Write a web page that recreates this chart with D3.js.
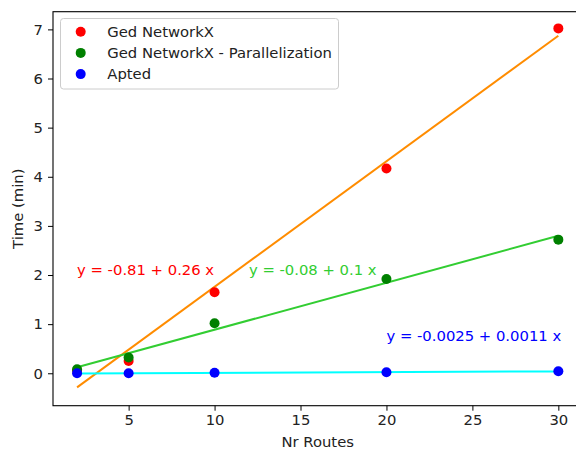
<!DOCTYPE html>
<html>
<head>
<meta charset="utf-8">
<script src="https://cdn.jsdelivr.net/npm/d3@7"></script>
<style>
  body { margin: 0; background: #fff; }
  svg { font-family: "DejaVu Sans", sans-serif; }
</style>
</head>
<body>
<div id="chart"></div>
<script>
// routes on the x axis
const routes = [2, 5, 10, 20, 30];

// time in minutes for each method
const gedNetworkx = [0.05, 0.25, 1.65, 4.17, 7.02];
const gedParallel = [0.08, 0.32, 1.02, 1.92, 2.72];
const apted = [0.0, 0.0, 0.01, 0.02, 0.04];

const seriesNames = ["Ged NetworkX", "Ged NetworkX - Parallelization", "Apted"];
const fitLabels = ["y = -0.81 + 0.26 x", "y = -0.08 + 0.1 x", "y = -0.0025 + 0.0011 x"];
const fitLabelPos = [[2, 2], [12, 2], [20, 0.65]];

const xTicks = [5, 10, 15, 20, 25, 30];
const yTicks = [0, 1, 2, 3, 4, 5, 6, 7];

const ctx = {
    w: 576,
    h: 449,
    left: 53,
    right: 582.4,
    top: 11.7,
    bottom: 405.7,
    font: "14.8px"
};

const pointColors = ["#ff0000", "#008000", "#0000ff"];
const fitColors = ["#ff8c00", "#32cd32", "#00ffff"];
const textColors = ["#ff0000", "#32cd32", "#0000ff"];

// least squares fit
function fit(xs, ys) {
    const mx = d3.mean(xs), my = d3.mean(ys);
    const sxy = d3.sum(xs, (x, i) => (x - mx) * (ys[i] - my));
    const sxx = d3.sum(xs, x => (x - mx) * (x - mx));
    const b = sxy / sxx;
    return { a: my - b * mx, b: b };
}

function createViz() {
    const svg = d3.select("#chart").append("svg")
        .attr("width", ctx.w)
        .attr("height", ctx.h);

    const x = d3.scaleLinear().domain([0.6, 31.4]).range([ctx.left, ctx.right]);
    const y = d3.scaleLinear().domain([-0.66, 7.36]).range([ctx.bottom, ctx.top]);

    const all = [gedNetworkx, gedParallel, apted];

    // fit lines
    all.forEach((ys, k) => {
        const f = fit(routes, ys);
        const ends = [routes[0], routes[routes.length - 1]];
        svg.append("path")
            .datum(ends)
            .attr("fill", "none")
            .attr("stroke", fitColors[k])
            .attr("stroke-width", 2)
            .attr("d", d3.line().x(d => x(d)).y(d => y(f.a + f.b * d)));
    });

    // points
    all.forEach((ys, k) => {
        svg.append("g").selectAll("circle")
            .data(routes)
            .join("circle")
            .attr("cx", d => x(d))
            .attr("cy", (d, i) => y(ys[i]))
            .attr("r", 5)
            .attr("fill", pointColors[k]);
    });

    // fit equations
    fitLabels.forEach((t, k) => {
        svg.append("text")
            .attr("x", x(fitLabelPos[k][0]))
            .attr("y", y(fitLabelPos[k][1]))
            .attr("fill", textColors[k])
            .style("font-size", ctx.font)
            .text(t);
    });

    // frame
    svg.append("rect")
        .attr("x", ctx.left)
        .attr("y", ctx.top)
        .attr("width", ctx.right - ctx.left)
        .attr("height", ctx.bottom - ctx.top)
        .attr("fill", "none")
        .attr("stroke", "#000")
        .attr("stroke-width", 1.1);

    // x axis
    const xAxis = svg.append("g")
        .attr("transform", `translate(0,${ctx.bottom})`)
        .call(d3.axisBottom(x).tickValues(xTicks).tickSize(5).tickPadding(4).tickFormat(d3.format("d")));
    xAxis.select(".domain").remove();
    xAxis.selectAll("text").style("font-size", ctx.font).style("font-family", "DejaVu Sans").attr("fill", "#222");

    // y axis
    const yAxis = svg.append("g")
        .attr("transform", `translate(${ctx.left},0)`)
        .call(d3.axisLeft(y).tickValues(yTicks).tickSize(5).tickPadding(5).tickFormat(d3.format("d")));
    yAxis.select(".domain").remove();
    yAxis.selectAll("text").style("font-size", ctx.font).style("font-family", "DejaVu Sans").attr("fill", "#222");

    // axis labels
    svg.append("text")
        .attr("x", (ctx.left + ctx.right) / 2)
        .attr("y", 447)
        .attr("text-anchor", "middle")
        .style("font-size", ctx.font)
        .attr("fill", "#222")
        .text("Nr Routes");

    svg.append("text")
        .attr("transform", `translate(23,${(ctx.top + ctx.bottom) / 2}) rotate(-90)`)
        .attr("text-anchor", "middle")
        .style("font-size", ctx.font)
        .attr("fill", "#222")
        .text("Time (min)");

    // legend
    const legend = svg.append("g");
    legend.append("rect")
        .attr("x", 60.5)
        .attr("y", 18.5)
        .attr("width", 278)
        .attr("height", 70.5)
        .attr("rx", 3)
        .attr("fill", "#fff")
        .attr("fill-opacity", 0.8)
        .attr("stroke", "#cccccc");
    seriesNames.forEach((name, k) => {
        const cy = 31.7 + k * 21.2;
        legend.append("circle")
            .attr("cx", 80.7)
            .attr("cy", cy)
            .attr("r", 5)
            .attr("fill", pointColors[k]);
        legend.append("text")
            .attr("x", 107.3)
            .attr("y", cy)
            .attr("dy", "0.35em")
            .style("font-size", ctx.font)
            .attr("fill", "#222")
            .text(name);
    });
}

document.addEventListener("DOMContentLoaded", function () {
    createViz();
});
</script>
</body>
</html>
